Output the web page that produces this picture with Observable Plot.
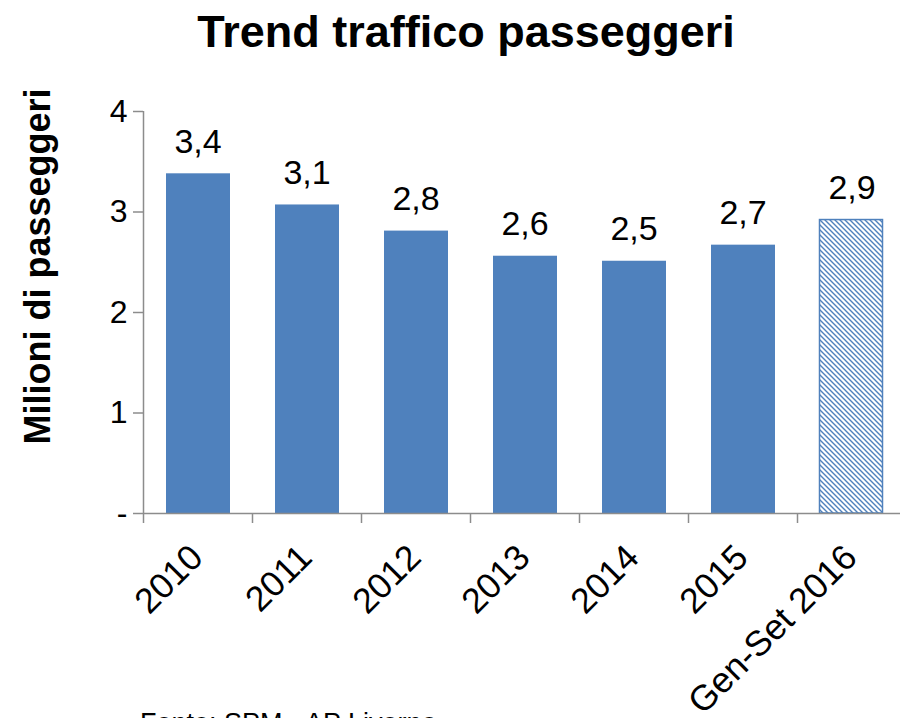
<!DOCTYPE html>
<html>
<head>
<meta charset="utf-8">
<script src="https://cdn.jsdelivr.net/npm/d3@7"></script>
<script src="https://cdn.jsdelivr.net/npm/@observablehq/plot@0.6"></script>
<style>
  html, body { margin: 0; padding: 0; background: #fff; }
  body { width: 900px; height: 718px; position: relative; overflow: hidden; font-family: "Liberation Sans", Arial, sans-serif; }
  #title { position: absolute; left: 0; top: 9px; width: 900px; padding-left: 32px; box-sizing: border-box; text-align: center; font-size: 45px; line-height: 45px; font-weight: bold; color: #000; }
  #chart { position: absolute; left: 0; top: 0; }
  #caption { position: absolute; left: 140px; top: 710px; font-size: 27px; line-height: 27px; color: #000; white-space: nowrap; }
</style>
</head>
<body>
<div id="chart"></div>
<div id="title">Trend traffico passeggeri</div>
<div id="caption">Fonte: SPM - AP Livorno</div>
<script>
const categories = ["2010", "2011", "2012", "2013", "2014", "2015", "Gen-Set 2016"];
const values = [3.38, 3.07, 2.81, 2.56, 2.51, 2.67, 2.92];
const valueLabels = ["3,4", "3,1", "2,8", "2,6", "2,5", "2,7", "2,9"];
const hatched = [false, false, false, false, false, false, true];
const yTicks = [0, 1, 2, 3, 4];
const yLabel = "Milioni di passeggeri";

const data = categories.map((c, i) => ({cat: c, i, value: values[i], label: valueLabels[i], hatched: hatched[i]}));
const boundaries = d3.range(categories.length + 1);
const blue = "#4f81bd";
const grey = "#8c8c8c";
const font = "Liberation Sans, Arial, sans-serif";

const plot = Plot.plot({
  width: 900,
  height: 718,
  marginTop: 111,
  marginBottom: 205,
  marginLeft: 143,
  marginRight: 0,
  style: {fontFamily: font, background: "transparent", overflow: "visible"},
  x: {type: "linear", domain: [0, categories.length], range: [143, 906], axis: null},
  y: {domain: [0, 4], axis: null},
  marks: [
    Plot.rectY(data.filter(d => !d.hatched), {x1: d => d.i, x2: d => d.i + 1, y: "value", insetLeft: 23, insetRight: 22, fill: blue}),
    Plot.rectY(data.filter(d => d.hatched), {x1: d => d.i, x2: d => d.i + 1, y: "value", insetLeft: 22.5, insetRight: 23.5, fill: "url(#hatch)", stroke: blue, strokeWidth: 1.5}),
    Plot.ruleX([0], {y1: 0, y2: 4, stroke: grey, strokeWidth: 1.5}),
    Plot.ruleY([0], {x1: 0, x2: categories.length, stroke: grey, strokeWidth: 1.5}),
    Plot.axisY({ticks: yTicks, tickSize: 10, tickPadding: 6, tickFormat: d => d === 0 ? "-" : String(d), fontSize: 32, stroke: grey, strokeWidth: 1.5, color: "#000", label: null}),
    Plot.axisX({ticks: boundaries, tickSize: 10, tickFormat: () => "", stroke: grey, strokeWidth: 1.5, label: null}),
    Plot.text(data, {x: d => d.i + 0.5, y: "value", text: "label", dy: -32, fontSize: 34, fill: "#000"}),
    Plot.text(data, {x: d => d.i + 0.5, y: () => 0, text: "cat", rotate: -45, textAnchor: "end", dx: -1, dy: 38, fontSize: 35.5, fill: "#000"}),
    Plot.text([yLabel], {frameAnchor: "left", text: d => d, rotate: -90, textAnchor: "middle", dx: -105, dy: -46, fontSize: 36, fontWeight: "bold", fill: "#000"})
  ]
});

const svg = d3.select(plot);
const defs = svg.insert("defs", ":first-child");
const pat = defs.append("pattern")
  .attr("id", "hatch")
  .attr("patternUnits", "userSpaceOnUse")
  .attr("width", 5)
  .attr("height", 5);
pat.append("rect").attr("width", 5).attr("height", 5).attr("fill", "#fff");
pat.append("path")
  .attr("d", "M-1,-1 L6,6 M-1,4 L1,6 M4,-1 L6,1")
  .attr("stroke", blue)
  .attr("stroke-width", 1.4);

document.getElementById("chart").appendChild(plot);
</script>
</body>
</html>
